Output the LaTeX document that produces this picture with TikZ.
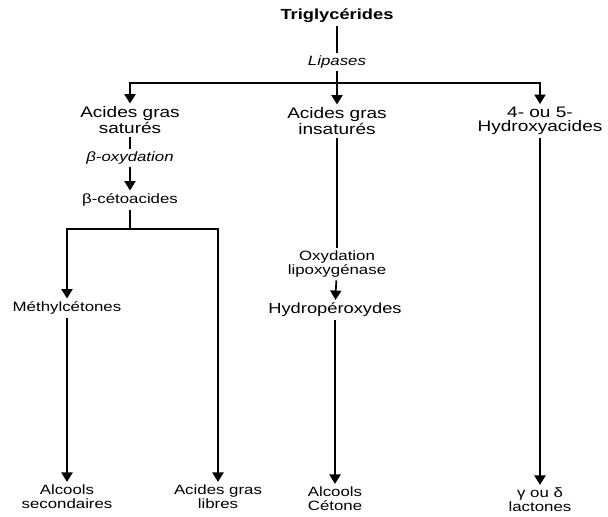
\documentclass[tikz,border=0pt]{standalone}
\usepackage{fontspec}
\setmainfont[FakeStretch=1.25]{Liberation Sans}
\usetikzlibrary{arrows.meta}

\begin{document}
\begin{tikzpicture}[
    x=0.03cm, y=-0.03cm,
    line width=1.4pt,
    txt/.style={align=center, inner sep=2pt},
    big/.style={txt, font=\fontsize{13}{12}\selectfont},
    small/.style={txt, font=\fontsize{11.5}{12}\selectfont},
    enzyme/.style={txt, font=\fontsize{11.5}{12}\selectfont\itshape},
    arrow/.style={-{Triangle[length=8pt,width=9.5pt]}}
]
\useasboundingbox (0,0) rectangle (608,517);

% Lipolysis
\node[txt, font=\fontsize{12.5}{12}\selectfont\bfseries] (trig) at (337,16) {Triglycérides};
\node[enzyme] (lipases) at (337,62) {Lipases};
\coordinate (hub) at (337,83);

% Fatty acid families
\node[big] (sat) at (130,120) {Acides gras\\saturés};
\node[big] (insat) at (337,121) {Acides gras\\insaturés};
\node[big] (hydroxy) at (540,121) {4- ou 5-\\Hydroxyacides};

% Saturated branch
\node[enzyme] (betaox) at (130,158) {β-oxydation};
\node[small] (cetoac) at (130,200) {β-cétoacides};
\coordinate (split) at (130,229);
\node[small] (methyl) at (67,308) {Méthylcétones};
\node[small] (secalc) at (67,497) {Alcools\\secondaires};
\node[small] (libres) at (218,497) {Acides gras\\libres};

% Unsaturated branch
\node[small] (oxyd) at (337,264) {Oxydation\\lipoxygénase};
\node[small, font=\fontsize{12.5}{12}\selectfont] (hydroper) at (335,310) {Hydropéroxydes};
\node[small] (cetone) at (335,499) {Alcools\\Cétone};

% Hydroxyacids branch
\node[small] (lactones) at (540,500) {γ ou δ\\lactones};

% Connections
\draw (trig) -- (lipases);
\draw[arrow] (lipases) -- (insat);
\draw[arrow] (hub) -| (sat);
\draw[arrow] (hub) -| (hydroxy);

\draw (sat) -- (betaox);
\draw[arrow] (betaox) -- (cetoac);
\draw (cetoac) -- (split);
\draw[arrow] (split) -| (methyl);
\draw[arrow] (split) -| (libres);
\draw[arrow] (methyl) -- (secalc);

\draw (insat) -- (oxyd);
\draw[arrow] (oxyd) -- (hydroper);
\draw[arrow] (hydroper) -- (cetone);

\draw[arrow] (hydroxy) -- (lactones);

\end{tikzpicture}
\end{document}
